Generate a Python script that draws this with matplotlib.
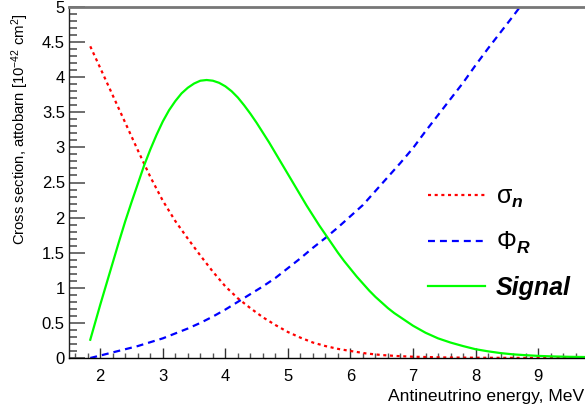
import matplotlib
matplotlib.use("Agg")
import matplotlib.pyplot as plt
from matplotlib.ticker import MultipleLocator, FixedLocator
from matplotlib.lines import Line2D

plt.rcParams['font.family'] = ['Liberation Sans', 'DejaVu Sans']
plt.rcParams['mathtext.fontset'] = 'custom'
plt.rcParams['mathtext.rm'] = 'Liberation Sans'
plt.rcParams['mathtext.it'] = 'Liberation Sans:italic'
plt.rcParams['mathtext.bf'] = 'Liberation Sans:bold'
plt.rcParams['mathtext.bfit'] = 'Liberation Sans:bold:italic'
plt.rcParams['lines.scale_dashes'] = False

# sigma_n (red dotted)
sig_x = [1.84, 2.0, 2.2, 2.4, 2.6, 2.8, 3.0, 3.2, 3.4, 3.6, 3.8, 4.0, 4.2, 4.4, 4.6,
         4.8, 5.0, 5.2, 5.4, 5.6, 5.8, 6.0, 6.25, 6.5, 6.75, 7.0, 7.5, 8.0, 8.5, 9.0, 9.75]
sig_y = [4.44, 4.13, 3.74, 3.35, 2.96, 2.58, 2.24, 1.95, 1.70, 1.46, 1.23, 1.02, 0.85, 0.71,
         0.58, 0.47, 0.37, 0.29, 0.22, 0.17, 0.13, 0.10, 0.065, 0.042, 0.028, 0.018, 0.008,
         0.004, 0.002, 0.001, 0.0]

# Phi_R (blue dashed)
phi_x = [1.84, 2.0, 2.2, 2.4, 2.6, 2.8, 3.0, 3.2, 3.4, 3.6, 3.8, 4.0, 4.2, 4.4, 4.6, 4.8,
         5.0, 5.2, 5.4, 5.6, 5.8, 6.0, 6.2, 6.4, 6.6, 6.8, 7.0, 7.2, 7.4, 7.6, 7.8, 8.0,
         8.2, 8.4, 8.6, 8.71]
phi_y = [0.0, 0.035, 0.08, 0.125, 0.17, 0.225, 0.28, 0.35, 0.42, 0.50, 0.59, 0.69, 0.80, 0.91,
         1.02, 1.14, 1.28, 1.42, 1.57, 1.71, 1.86, 2.02, 2.18, 2.38, 2.58, 2.78, 2.99, 3.23,
         3.46, 3.69, 3.92, 4.17, 4.41, 4.64, 4.87, 5.0]

# Signal (green solid)
sgn_x = [1.84, 2.0, 2.1, 2.2, 2.3, 2.4, 2.5, 2.6, 2.7, 2.8, 2.9, 3.0, 3.1, 3.2, 3.3, 3.4,
         3.5, 3.6, 3.7, 3.8, 3.9, 4.0, 4.1, 4.2, 4.3, 4.4, 4.5, 4.6, 4.7, 4.8, 4.9, 5.0,
         5.1, 5.2, 5.3, 5.4, 5.5, 5.6, 5.7, 5.8, 5.9, 6.0, 6.1, 6.2, 6.3, 6.4, 6.5, 6.6,
         6.7, 6.8, 6.9, 7.0, 7.2, 7.4, 7.6, 7.8, 8.0, 8.2, 8.4, 8.6, 8.8, 9.0, 9.25, 9.5, 9.75]
sgn_y = [0.26, 0.76, 1.06, 1.36, 1.66, 1.95, 2.22, 2.48, 2.74, 2.97, 3.18, 3.37, 3.53, 3.66,
         3.77, 3.85, 3.91, 3.95, 3.96, 3.95, 3.92, 3.87, 3.80, 3.71, 3.60, 3.48, 3.35, 3.21,
         3.07, 2.92, 2.77, 2.62, 2.47, 2.32, 2.17, 2.03, 1.89, 1.76, 1.63, 1.50, 1.38, 1.27,
         1.16, 1.06, 0.96, 0.87, 0.79, 0.71, 0.64, 0.58, 0.52, 0.46, 0.36, 0.28, 0.22, 0.17,
         0.125, 0.095, 0.07, 0.052, 0.04, 0.03, 0.022, 0.017, 0.014]

labels = [r'σ$_{\mathbfit{n}}$', r'Φ$_{\mathbfit{R}}$', 'Signal']
yticks = [0, 0.5, 1, 1.5, 2, 2.5, 3, 3.5, 4, 4.5, 5]
yticklabels = ['0', '0.5', '1', '1.5', '2', '2.5', '3', '3.5', '4', '4.5', '5']
xticks = [2, 3, 4, 5, 6, 7, 8, 9]

RED, BLUE, GREEN = '#ff0000', '#0000ff', '#00ff00'
LW = 1.6
RED_D = (2.2, 2.6)
BLUE_D = (5.0, 3.6)

W, H = 585, 413
fig = plt.figure(figsize=(W / 100, H / 100), dpi=100)
ax = fig.add_axes([69 / W, (H - 358) / H, (W - 69) / W, 351 / H])

ax.plot(sig_x, sig_y, color=RED, lw=LW, dashes=RED_D)
ax.plot(phi_x, phi_y, color=BLUE, lw=LW, dashes=BLUE_D)
ax.plot(sgn_x, sgn_y, color=GREEN, lw=LW)

ax.set_xlim(1.5, 9.75)
ax.set_ylim(0, 5)

ax.spines['right'].set_visible(False)
ax.spines['top'].set_color('#777777')
ax.spines['top'].set_linewidth(2)
ax.spines['left'].set_color('#222222')
ax.spines['bottom'].set_color('#000000')
for s in ['left', 'bottom']:
    ax.spines[s].set_linewidth(1.0)

ax.xaxis.set_major_locator(FixedLocator(xticks))
ax.xaxis.set_minor_locator(MultipleLocator(0.2))
ax.set_yticks(yticks)
ax.set_yticklabels(yticklabels)
ax.yaxis.set_minor_locator(MultipleLocator(0.1))

ax.tick_params(axis='y', which='major', direction='in', length=11.5, width=1.2,
               color='#555555', labelsize=12, pad=3)
ax.tick_params(axis='y', which='minor', direction='in', length=5.8, width=1.2, color='#555555')
ax.tick_params(axis='x', which='major', direction='in', length=7.5, width=1.0,
               color='#333333', labelsize=12, pad=8)
ax.tick_params(axis='x', which='minor', direction='in', length=3.8, width=1.0, color='#555555')

fig.text(20 / W, 1 - 14 / H, r'Cross section, attobarn [10$^{-42}$ cm$^{2}$]',
         rotation=90, ha='center', va='top', fontsize=10.7)
fig.text(584 / W, 1 - 397 / H, 'Antineutrino energy, MeV', ha='right', va='center',
         fontsize=12.6)

handles = [Line2D([], [], color=RED, lw=LW, dashes=RED_D),
           Line2D([], [], color=BLUE, lw=LW, dashes=BLUE_D),
           Line2D([], [], color=GREEN, lw=LW)]
leg = ax.legend(handles, labels, loc='upper left', bbox_to_anchor=(415 / W, 1 - 172 / H),
                bbox_transform=fig.transFigure, frameon=False, handlelength=2.3,
                handletextpad=0.44, labelspacing=0.8, fontsize=18, borderpad=0)
for t in leg.get_texts():
    if t.get_text() == 'Signal':
        t.set_fontweight('bold')
        t.set_fontstyle('italic')

fig.savefig('out.png', dpi=100)
